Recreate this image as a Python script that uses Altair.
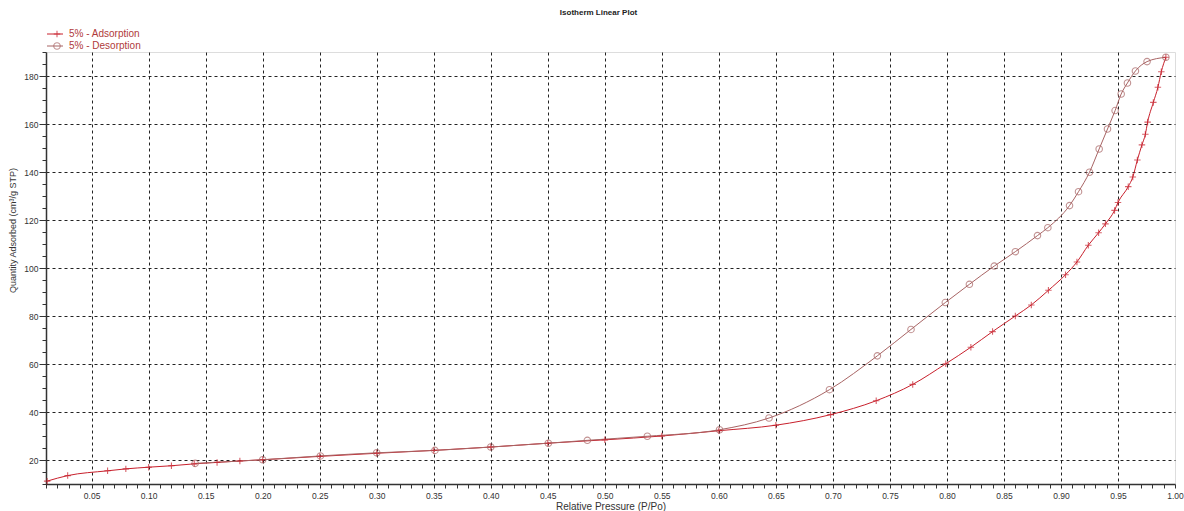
import altair as alt
import pandas as pd

# ---- data ----
ads_p = [0.011, 0.029, 0.064, 0.080, 0.100, 0.120, 0.140, 0.160, 0.180, 0.200,
         0.250, 0.300, 0.350, 0.400, 0.450, 0.500, 0.550, 0.600, 0.650, 0.698,
         0.738, 0.770, 0.799, 0.821, 0.840, 0.860, 0.874, 0.889, 0.904, 0.914,
         0.924, 0.933, 0.939, 0.947, 0.950, 0.959, 0.963, 0.967, 0.971, 0.974,
         0.976, 0.981, 0.985, 0.988, 0.992]
ads_q = [11.2, 13.5, 15.5, 16.3, 17.0, 17.6, 18.4, 19.0, 19.6, 20.1,
         21.5, 22.8, 24.0, 25.4, 27.0, 28.4, 30.0, 32.2, 34.5, 38.9,
         44.7, 51.5, 60.1, 67.0, 73.5, 80.0, 84.6, 90.7, 97.2, 102.5,
         109.5, 114.7, 118.4, 124.0, 127.3, 133.9, 137.9, 145.0, 151.3, 155.7,
         160.8, 169.0, 175.3, 181.8, 187.8]

des_p = [0.992, 0.9755, 0.9653, 0.9583, 0.9528, 0.9475, 0.9408, 0.9335, 0.925, 0.9154,
         0.9075, 0.8885, 0.8794, 0.860, 0.8415, 0.8197, 0.7986, 0.7685, 0.739, 0.697,
         0.644, 0.6006, 0.5373, 0.4847, 0.4505, 0.400, 0.351, 0.300, 0.2506, 0.200,
         0.1408]
des_q = [187.8, 186.0, 182.1, 177.1, 172.5, 165.6, 157.9, 149.6, 139.9, 131.8,
         126.0, 116.8, 113.5, 106.8, 100.8, 93.2, 85.6, 74.4, 63.4, 49.3,
         37.5, 32.6, 29.9, 28.2, 27.0, 25.4, 24.0, 23.0, 21.7, 20.1,
         18.6]

series_names = ["5% - Adsorption", "5% - Desorption"]
line_colors = ["#c8202c", "#a86464"]
marker_shapes = ["M-1,0H1M0,-1V1", "circle"]
legend_shapes = ["M-1,0H1M0,-1V1", "circle"]

x_ticks = [round(0.01 * i, 2) for i in range(1, 101)]
y_ticks = list(range(10, 195, 5))

FONT = "Liberation Sans"

df = pd.DataFrame({
    "p": ads_p + des_p,
    "q": ads_q + des_q,
    "series": [series_names[0]] * len(ads_p) + [series_names[1]] * len(des_p),
})
leg_df = pd.DataFrame({"series": series_names, "row": [0, 1]})

x_major = "abs(datum.value*20 - round(datum.value*20)) < 0.000001"
y_major = "datum.value % 20 == 0"

x_scale = alt.Scale(domain=[0.01, 1.0], nice=False, zero=False)
y_scale = alt.Scale(domain=[10, 190], nice=False, zero=False)
color_scale = alt.Scale(domain=series_names, range=line_colors)

x_axis = alt.Axis(
    values=x_ticks, tickCount=500,
    labelExpr=f"{x_major} ? format(datum.value, '.2f') : ''",
    labelOverlap=False, labelFlush=False,
    grid=True, gridDash=[3, 3], gridColor="#222", gridWidth=1,
    gridOpacity={"condition": {"test": f"{x_major} && datum.value < 0.999", "value": 1}, "value": 0},
    tickSize=4, tickColor="#333", domainColor="#333", domainWidth=1.5,
    labelFont=FONT, labelFontSize=8.5, labelColor="#333", labelPadding=3,
    title="Relative Pressure (P/Po)", titleFont=FONT, titleFontSize=10,
    titleFontWeight="normal", titleColor="#333", titlePadding=2,
)
y_axis = alt.Axis(
    values=y_ticks, tickCount=500,
    labelExpr=f"({y_major}) && datum.value >= 20 && datum.value <= 180 ? datum.value : ''",
    labelOverlap=False, labelFlush=False,
    grid=True, gridDash=[3, 3], gridColor="#222", gridWidth=1,
    gridOpacity={"condition": {"test": f"({y_major}) && datum.value >= 20 && datum.value <= 180", "value": 1}, "value": 0},
    tickSize={"condition": {"test": f"{y_major}", "value": 7}, "value": 4},
    tickColor="#333", domainColor="#333", domainWidth=1.5,
    labelFont=FONT, labelFontSize=8.5, labelColor="#333", labelPadding=1,
    title="Quantity Adsorbed (cm³/g STP)", titleFont=FONT, titleFontSize=9,
    titleFontWeight="normal", titleColor="#333", titlePadding=6, titleY=178,
)

base = alt.Chart(df)
lines = base.mark_line(interpolate="monotone", strokeWidth=1).encode(
    x=alt.X("p:Q", scale=x_scale, axis=x_axis),
    y=alt.Y("q:Q", scale=y_scale, axis=y_axis),
    color=alt.Color("series:N", scale=color_scale, legend=None),
    detail="series:N",
)
points = base.mark_point(filled=False, size=42, strokeWidth=1.1).encode(
    x=alt.X("p:Q", scale=x_scale),
    y=alt.Y("q:Q", scale=y_scale),
    color=alt.Color("series:N", scale=color_scale, legend=None),
    shape=alt.Shape("series:N", scale=alt.Scale(domain=series_names, range=marker_shapes), legend=None),
)
main = alt.layer(lines, points)

leg_y = alt.Y("row:Q", scale=alt.Scale(domain=[0, 1], range=[-18, -6]), axis=None)
leg_base = alt.Chart(leg_df)
leg_rule = leg_base.mark_rule(strokeWidth=1).encode(
    x=alt.value(1), x2=alt.value(17), y=leg_y,
    color=alt.Color("series:N", scale=color_scale, legend=None),
)
leg_pt = leg_base.mark_point(filled=False, size=42, strokeWidth=1.1).encode(
    x=alt.value(11), y=leg_y,
    color=alt.Color("series:N", scale=color_scale, legend=None),
    shape=alt.Shape("series:N", scale=alt.Scale(domain=series_names, range=legend_shapes), legend=None),
)
leg_txt = leg_base.mark_text(align="left", baseline="middle", font=FONT, fontSize=10, color="#b03a3a").encode(
    x=alt.value(23), y=leg_y, text="series:N",
)
legend = alt.layer(leg_rule, leg_pt, leg_txt)

chart = alt.layer(main, legend).resolve_scale(y="independent").properties(
    width=1129, height=432,
    padding={"left": 46, "top": 52, "right": 9, "bottom": 27},
    autosize=alt.AutoSizeParams(type="none"),
    title=alt.TitleParams("Isotherm Linear Plot", font=FONT, fontSize=8, fontWeight="bold",
                          color="#222", anchor="middle", offset=12, dx=-12),
).configure_view(stroke="#333", strokeWidth=1.5).configure(background="white")

chart.save("out.html", embed_options={"renderer": "svg", "actions": False})
